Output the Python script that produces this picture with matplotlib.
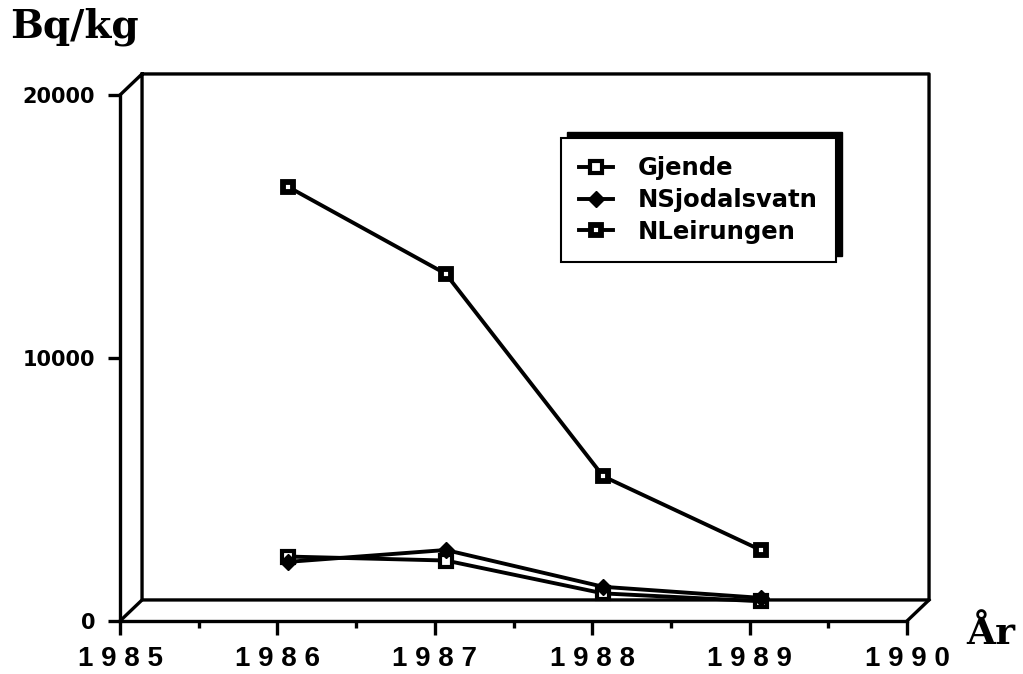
import matplotlib.pyplot as plt
from matplotlib.ticker import FixedLocator, MultipleLocator
from matplotlib.patches import Rectangle
from matplotlib.transforms import IdentityTransform

years = [1986, 1987, 1988, 1989]
gjende = [2050, 1900, 650, 350]
nsjodalsvatn = [1850, 2300, 900, 480]
nleirungen = [16100, 12800, 5100, 2300]
x_ticks = [1985, 1986, 1987, 1988, 1989, 1990]
y_ticks = [0, 10000, 20000]

W, H = 1023, 674
fig = plt.figure(figsize=(W / 100, H / 100), dpi=100)
ax = fig.add_axes([120 / W, 53 / H, 787 / W, 526 / H])
ax.set_xlim(1985, 1990)
ax.set_ylim(0, 20000)

# depth of the fake 3d box (in data units)
dx, dy = 0.14, 800
lw = 2.4
k = dict(color='black', lw=lw, clip_on=False, solid_capstyle='projecting')
ax.plot([1985, 1985 + dx, 1990 + dx, 1990 + dx, 1985 + dx, 1985 + dx],
        [20000, 20000 + dy, 20000 + dy, dy, dy, 20000 + dy], **k)
ax.plot([1985, 1985 + dx], [0, dy], **k)
ax.plot([1990, 1990 + dx], [0, dy], **k)

for s in ['top', 'right']:
    ax.spines[s].set_visible(False)
for s in ['left', 'bottom']:
    ax.spines[s].set_linewidth(lw)

# series sit in the middle of the box depth
xs = [y + dx / 2 for y in years]
off = lambda v: [a + dy / 2 for a in v]
dlw = 2.8
ax.plot(xs, off(gjende), color='black', lw=dlw, marker='s', ms=8.5,
        mfc='white', mec='black', mew=3, label='Gjende', clip_on=False, zorder=3)
ax.plot(xs, off(nsjodalsvatn), color='black', lw=dlw, marker='D', ms=8.5,
        mfc='black', mec='black', label='NSjodalsvatn', clip_on=False, zorder=4)
ax.plot(xs, off(nleirungen), color='black', lw=dlw, marker='s', ms=7.5,
        mfc='white', mec='black', mew=4.2, label='NLeirungen', clip_on=False, zorder=3)

ax.xaxis.set_major_locator(FixedLocator(x_ticks))
ax.xaxis.set_minor_locator(MultipleLocator(0.5))
ax.set_xticklabels([' '.join(str(t)) for t in x_ticks],
                   fontfamily='Liberation Sans', fontweight='bold', fontsize=20)
ax.tick_params(axis='x', which='major', length=10, width=lw, pad=8)
ax.tick_params(axis='x', which='minor', length=5, width=lw)
ax.yaxis.set_major_locator(FixedLocator(y_ticks))
ax.set_yticklabels([str(t) for t in y_ticks],
                   fontfamily='DejaVu Sans', fontweight='bold', fontsize=15)
ax.tick_params(axis='y', which='major', length=9, width=lw, pad=9)

fig.text(10 / W, 1 - 38 / H, 'Bq/kg', fontfamily='DejaVu Serif',
         fontweight='bold', fontsize=28, va='baseline')
fig.text(966 / W, 1 - 644 / H, 'År', fontfamily='DejaVu Serif',
         fontweight='bold', fontsize=27, va='baseline')

leg = ax.legend(loc='upper left', bbox_to_anchor=(561 / W, 1 - 138 / H),
                bbox_transform=fig.transFigure, borderaxespad=0,
                prop={'family': 'DejaVu Sans', 'weight': 'bold', 'size': 17.5},
                fancybox=False, edgecolor='black', framealpha=1,
                handlelength=1.4, handletextpad=1.0, labelspacing=0.32,
                borderpad=0.75)
leg.get_frame().set_linewidth(1.5)
leg.set_zorder(10)

fig.canvas.draw()
bb = leg.get_window_extent()
shadow = Rectangle((bb.x0 + 6, bb.y0 + 6), bb.width, bb.height,
                   transform=IdentityTransform(), facecolor='black',
                   edgecolor='black', zorder=9, clip_on=False)
ax.add_artist(shadow)

fig.savefig('out.png', dpi=100)
